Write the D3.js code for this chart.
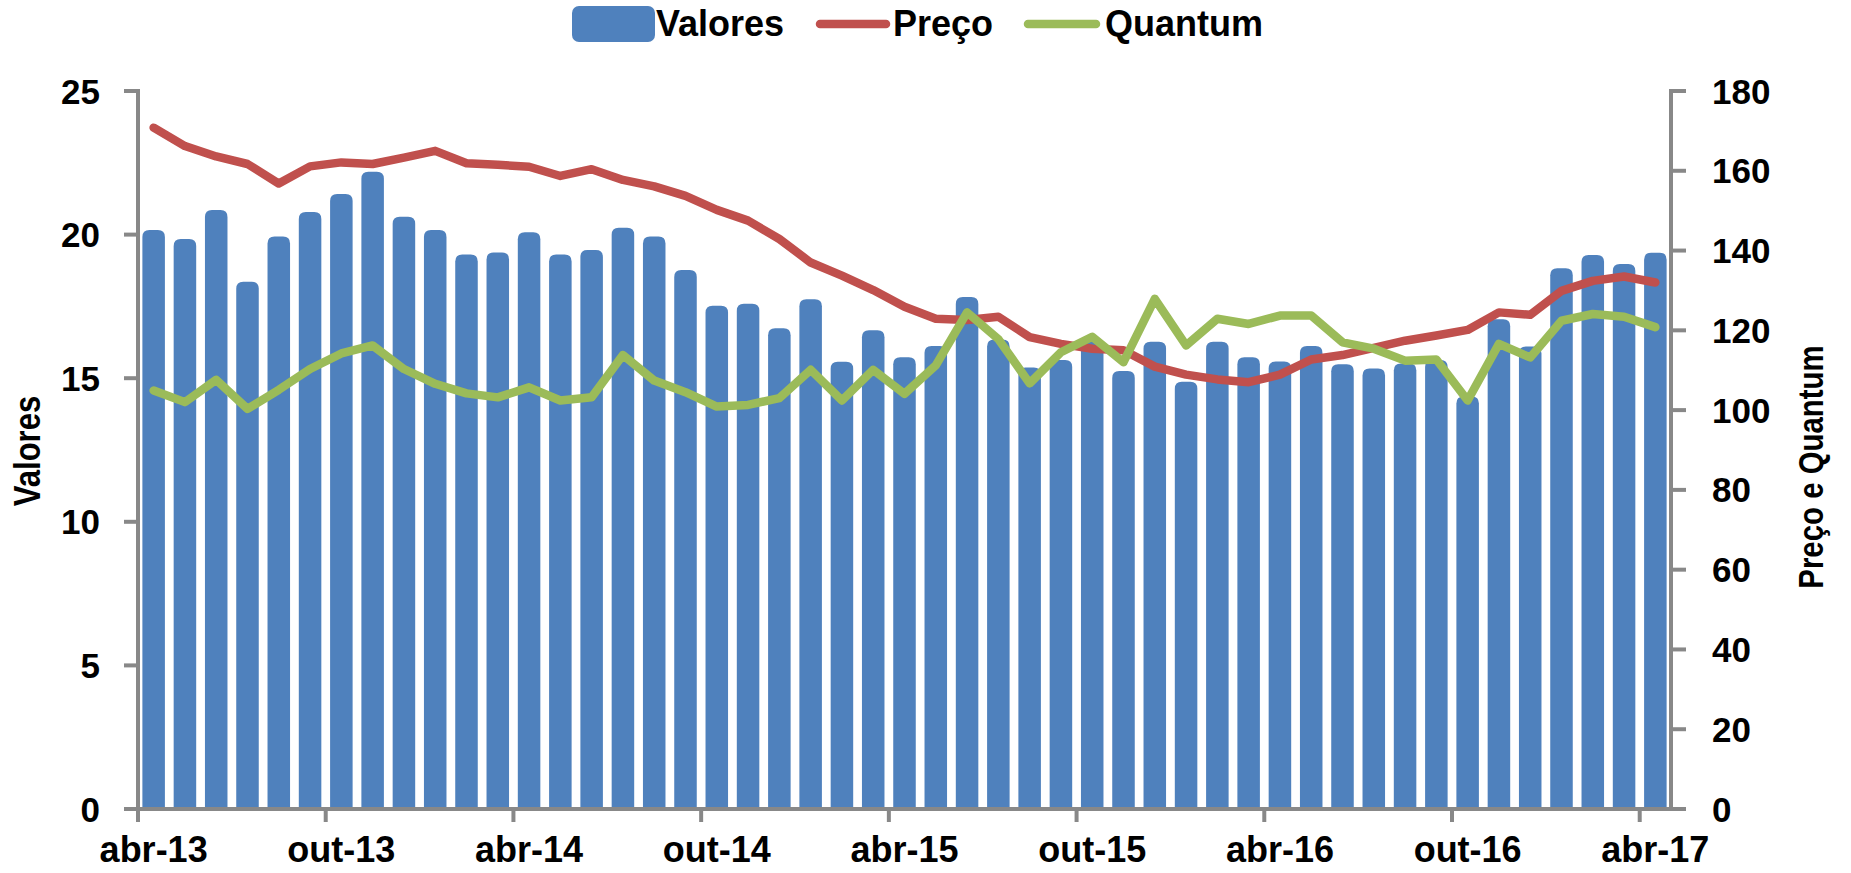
<!DOCTYPE html>
<html lang="pt">
<head>
    <meta charset="UTF-8">
    <title>Valores, Preço e Quantum</title>
    <script src="https://d3js.org/d3.v7.min.js"></script>
    <style>
        body {
            margin: 0;
            padding: 0;
            background-color: white;
        }
        svg {
            display: block;
            font-family: 'Liberation Sans', Arial, sans-serif;
            font-weight: bold;
        }
        .axis-line {
            stroke: #888888;
            stroke-width: 4;
        }
        .tick-label {
            font-size: 35px;
            fill: black;
        }
        .x-label, .legend-label {
            font-size: 36px;
            fill: black;
        }
    </style>
</head>
<body>
    <svg width="1851" height="873"></svg>

    <script>
        const months = [
            "abr-13","mai-13","jun-13","jul-13","ago-13","set-13","out-13","nov-13","dez-13",
            "jan-14","fev-14","mar-14","abr-14","mai-14","jun-14","jul-14","ago-14","set-14",
            "out-14","nov-14","dez-14","jan-15","fev-15","mar-15","abr-15","mai-15","jun-15",
            "jul-15","ago-15","set-15","out-15","nov-15","dez-15","jan-16","fev-16","mar-16",
            "abr-16","mai-16","jun-16","jul-16","ago-16","set-16","out-16","nov-16","dez-16",
            "jan-17","fev-17","mar-17","abr-17"
        ];

        const valores = [
            20.16, 19.85, 20.86, 18.36, 19.93, 20.79, 21.41, 22.19, 20.62,
            20.16, 19.31, 19.38, 20.08, 19.31, 19.46, 20.24, 19.93, 18.77,
            17.52, 17.59, 16.74, 17.75, 15.57, 16.67, 15.73, 16.12, 17.83,
            16.35, 15.37, 15.63, 16.27, 15.25, 16.27, 14.88, 16.27, 15.73,
            15.58, 16.12, 15.49, 15.34, 15.51, 15.63, 14.36, 17.05, 16.10,
            18.83, 19.29, 18.98, 19.37
        ];

        const preco = [
            170.8, 166.2, 163.6, 161.7, 156.8, 161.1, 162.1, 161.7, 163.3,
            165.0, 161.9, 161.5, 161.0, 158.7, 160.4, 157.7, 156.1, 153.7,
            150.2, 147.5, 142.9, 137.0, 133.7, 130.1, 125.9, 122.9, 122.6,
            123.4, 118.3, 116.6, 115.4, 115.0, 110.9, 108.9, 107.7, 107.0,
            108.9, 112.7, 113.8, 115.6, 117.4, 118.7, 120.1, 124.5, 123.9,
            129.9, 132.4, 133.5, 132.0
        ];

        const quantum = [
            104.9, 102.0, 107.6, 100.3, 105.1, 110.3, 114.2, 116.2, 110.3,
            106.6, 104.2, 103.2, 105.7, 102.4, 103.2, 113.8, 107.4, 104.5,
            100.9, 101.3, 103.0, 110.1, 102.4, 110.1, 104.1, 111.2, 124.5,
            117.8, 106.7, 114.5, 118.4, 112.0, 127.9, 116.2, 122.9, 121.6,
            123.7, 123.7, 117.0, 115.4, 112.4, 112.7, 102.4, 116.6, 113.2,
            122.4, 124.1, 123.4, 120.8
        ];

        const leftTicks = [0, 5, 10, 15, 20, 25];
        const rightTicks = [0, 20, 40, 60, 80, 100, 120, 140, 160, 180];

        const svg = d3.select("svg");

        const plotLeft = 138;
        const plotRight = 1671;
        const plotTop = 91;
        const plotBottom = 809;

        const xScale = d3.scaleBand()
                         .domain(months)
                         .range([plotLeft, plotRight])
                         .paddingInner(0.28)
                         .paddingOuter(0.14);

        const yLeft = d3.scaleLinear()
                        .domain([0, 25])
                        .range([plotBottom, plotTop]);

        const yRight = d3.scaleLinear()
                         .domain([0, 180])
                         .range([plotBottom, plotTop]);

        const barData = months.map(function(m, i) { return { month: m, value: valores[i] }; });

        // bars with rounded tops
        const r = 7;
        svg.selectAll(".bar")
           .data(barData)
           .enter()
           .append("path")
           .attr("class", "bar")
           .attr("fill", "#4f81bd")
           .attr("d", function(d) {
               const x0 = xScale(d.month);
               const x1 = x0 + xScale.bandwidth();
               const y0 = yLeft(d.value);
               const y1 = yLeft(0);
               return "M" + x0 + "," + y1 +
                      "V" + (y0 + r) +
                      "Q" + x0 + "," + y0 + " " + (x0 + r) + "," + y0 +
                      "H" + (x1 - r) +
                      "Q" + x1 + "," + y0 + " " + x1 + "," + (y0 + r) +
                      "V" + y1 + "Z";
           });

        // lines
        const lineFor = function(values) {
            return d3.line()
                     .x(function(d, i) { return xScale(months[i]) + xScale.bandwidth() / 2; })
                     .y(function(d) { return yRight(d); })(values);
        };

        svg.append("path")
           .attr("d", lineFor(preco))
           .attr("fill", "none")
           .attr("stroke", "#c0504d")
           .attr("stroke-width", 8.5)
           .attr("stroke-linejoin", "round")
           .attr("stroke-linecap", "round");

        svg.append("path")
           .attr("d", lineFor(quantum))
           .attr("fill", "none")
           .attr("stroke", "#9bbb59")
           .attr("stroke-width", 8.5)
           .attr("stroke-linejoin", "round")
           .attr("stroke-linecap", "round");

        // left axis
        svg.append("line")
           .attr("class", "axis-line")
           .attr("x1", plotLeft).attr("x2", plotLeft)
           .attr("y1", plotTop - 2).attr("y2", plotBottom);

        svg.selectAll(".left-tick")
           .data(leftTicks)
           .enter()
           .append("line")
           .attr("class", "axis-line left-tick")
           .attr("x1", plotLeft - 14).attr("x2", plotLeft)
           .attr("y1", function(d) { return yLeft(d); })
           .attr("y2", function(d) { return yLeft(d); });

        svg.selectAll(".left-label")
           .data(leftTicks)
           .enter()
           .append("text")
           .attr("class", "tick-label left-label")
           .attr("x", 100)
           .attr("y", function(d) { return yLeft(d); })
           .attr("dy", "0.36em")
           .attr("text-anchor", "end")
           .text(function(d) { return d; });

        // right axis
        svg.append("line")
           .attr("class", "axis-line")
           .attr("x1", plotRight).attr("x2", plotRight)
           .attr("y1", plotTop - 2).attr("y2", plotBottom);

        svg.selectAll(".right-tick")
           .data(rightTicks)
           .enter()
           .append("line")
           .attr("class", "axis-line right-tick")
           .attr("x1", plotRight).attr("x2", plotRight + 15)
           .attr("y1", function(d) { return yRight(d); })
           .attr("y2", function(d) { return yRight(d); });

        svg.selectAll(".right-label")
           .data(rightTicks)
           .enter()
           .append("text")
           .attr("class", "tick-label right-label")
           .attr("x", 1712)
           .attr("y", function(d) { return yRight(d); })
           .attr("dy", "0.36em")
           .attr("text-anchor", "start")
           .text(function(d) { return d; });

        // bottom axis
        svg.append("line")
           .attr("class", "axis-line")
           .attr("x1", plotLeft - 14).attr("x2", plotRight + 15)
           .attr("y1", plotBottom).attr("y2", plotBottom);

        const labelMonths = months.filter(function(m, i) { return i % 6 === 0; });

        svg.selectAll(".x-tick")
           .data(labelMonths)
           .enter()
           .append("line")
           .attr("class", "axis-line x-tick")
           .attr("x1", function(d) { return xScale(d) - xScale.step() * xScale.paddingInner() / 2; })
           .attr("x2", function(d) { return xScale(d) - xScale.step() * xScale.paddingInner() / 2; })
           .attr("y1", plotBottom)
           .attr("y2", plotBottom + 13);

        svg.selectAll(".x-label")
           .data(labelMonths)
           .enter()
           .append("text")
           .attr("class", "x-label")
           .attr("x", function(d) { return xScale(d) + xScale.bandwidth() / 2; })
           .attr("y", 862)
           .attr("text-anchor", "middle")
           .text(function(d) { return d; });

        // axis titles
        svg.append("text")
           .attr("transform", "translate(40,451) rotate(-90) scale(0.84,1)")
           .attr("text-anchor", "middle")
           .style("font-size", "37px")
           .text("Valores");

        svg.append("text")
           .attr("transform", "translate(1823,467) rotate(-90) scale(0.84,1)")
           .attr("text-anchor", "middle")
           .style("font-size", "35px")
           .text("Preço e Quantum");

        // legend
        const legendGroup = svg.append("g");

        legendGroup.append("rect")
           .attr("x", 572)
           .attr("y", 6)
           .attr("width", 83)
           .attr("height", 36)
           .attr("rx", 7)
           .attr("fill", "#4f81bd");

        legendGroup.append("text")
           .attr("class", "legend-label")
           .attr("x", 656)
           .attr("y", 36)
           .text("Valores");

        legendGroup.append("line")
           .attr("x1", 820).attr("x2", 886)
           .attr("y1", 24).attr("y2", 24)
           .attr("stroke", "#c0504d")
           .attr("stroke-width", 8.5)
           .attr("stroke-linecap", "round");

        legendGroup.append("text")
           .attr("class", "legend-label")
           .attr("x", 893)
           .attr("y", 36)
           .text("Preço");

        legendGroup.append("line")
           .attr("x1", 1028).attr("x2", 1096)
           .attr("y1", 24).attr("y2", 24)
           .attr("stroke", "#9bbb59")
           .attr("stroke-width", 8.5)
           .attr("stroke-linecap", "round");

        legendGroup.append("text")
           .attr("class", "legend-label")
           .attr("x", 1105)
           .attr("y", 36)
           .text("Quantum");
    </script>
</body>
</html>
